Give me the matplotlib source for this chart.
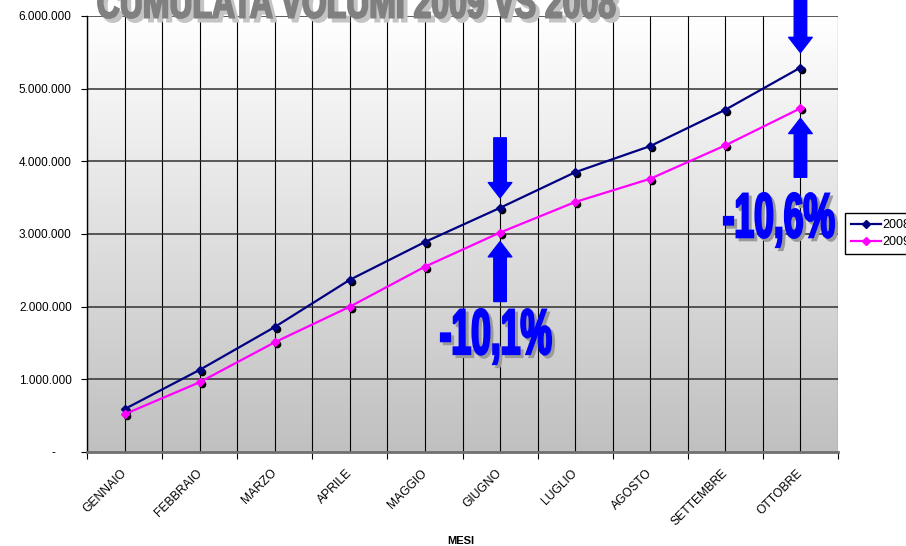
import numpy as np
import matplotlib
matplotlib.use("Agg")
import matplotlib.pyplot as plt
from matplotlib.textpath import TextPath
from matplotlib.patches import PathPatch
from matplotlib.font_manager import FontProperties
from matplotlib.transforms import Affine2D, IdentityTransform, offset_copy, blended_transform_factory
from matplotlib.lines import Line2D

# data
mesi = ['GENNAIO', 'FEBBRAIO', 'MARZO', 'APRILE', 'MAGGIO', 'GIUGNO',
        'LUGLIO', 'AGOSTO', 'SETTEMBRE', 'OTTOBRE']
v2008 = [590000, 1130000, 1720000, 2370000, 2890000, 3360000,
         3850000, 4210000, 4710000, 5290000]
v2009 = [520000, 960000, 1510000, 2000000, 2550000, 3020000,
         3440000, 3760000, 4220000, 4730000]
yticks = [0, 1000000, 2000000, 3000000, 4000000, 5000000, 6000000]
ylabels = ['-     ', '1.000.000', '2.000.000', '3.000.000', '4.000.000',
           '5.000.000', '6.000.000']

W, H = 906, 546
plt.rcParams['font.family'] = ['Liberation Sans', 'DejaVu Sans']

fig = plt.figure(figsize=(W / 100, H / 100), dpi=100)
fig.patch.set_facecolor('white')
ax = fig.add_axes([87 / W, 1 - 452 / H, (838 - 87) / W, (452 - 16) / H])

# gradient background of the plot area
grad = np.linspace(0, 1, 256).reshape(-1, 1)
ax.imshow(grad, cmap=matplotlib.colors.LinearSegmentedColormap.from_list(
    'g', ['#ffffff', '#c0c0c0']), extent=[0, 1, 0, 1], aspect='auto',
    transform=ax.transAxes, zorder=0, origin='upper')

x = np.arange(len(mesi))
ax.set_xlim(-0.5, len(mesi) - 0.5)
ax.set_ylim(0, 6000000)

# grid lines
for gx in np.arange(-0.5, len(mesi), 0.5):
    ax.axvline(gx, color='black', lw=0.8, zorder=1)
for gy in yticks[1:]:
    ax.axhline(gy, color='#303030', lw=1.1, zorder=1)

# shadows for the markers
shadow = offset_copy(ax.transData, fig=fig, x=2, y=-2, units='dots')
ax.plot(x, v2008, 'o', color='black', ms=4.5, transform=shadow, zorder=2)
ax.plot(x, v2009, 'o', color='black', ms=4.5, transform=shadow, zorder=2)
ax.plot(x, v2008, '-D', color='#000080', lw=1.6, ms=4, zorder=3)
ax.plot(x, v2009, '-D', color='#ff00ff', lw=1.6, ms=4, zorder=3)

ax.set_yticks(yticks)
ax.set_yticklabels(ylabels, fontsize=8.5)
ax.tick_params(axis='y', length=4, direction='out', pad=7)

# month labels, slanted, ending just left of each category centre
ax.set_xticks(np.arange(-0.5, len(mesi), 1))
ax.set_xticklabels([])
ax.tick_params(axis='x', length=5, direction='out')
lab_tr = offset_copy(blended_transform_factory(ax.transData, ax.transAxes),
                     fig=fig, x=-4, y=-15, units='dots')
for i, m in enumerate(mesi):
    ax.text(i, 0, m, transform=lab_tr, fontsize=8.7, rotation=45,
            ha='right', va='top', rotation_mode='anchor', clip_on=False)

for s in ['top', 'right']:
    ax.spines[s].set_visible(False)
ax.spines['left'].set_color('black')
ax.spines['left'].set_linewidth(1)
ax.spines['bottom'].set_color('#707070')
ax.spines['bottom'].set_linewidth(2)
ax.spines['bottom'].set_zorder(4)

fig.text(461 / W, 1 - 541 / H, 'MESI', fontsize=8, fontweight='bold',
         ha='center', va='center')

# legend (its right side runs off the picture, as in the original)
handles = [Line2D([], [], color='#000080', marker='D', ms=4, lw=1.6),
           Line2D([], [], color='#ff00ff', marker='D', ms=4, lw=1.6)]
leg = fig.legend(handles, ['2008', '2009'], loc='upper left',
                 bbox_to_anchor=(845 / W, 1 - 213 / H), fontsize=9,
                 fancybox=False, framealpha=1, edgecolor='black',
                 borderaxespad=0, handlelength=2.4, handletextpad=0.1,
                 borderpad=0.5, labelspacing=0.4)
leg.get_frame().set_linewidth(1)


# condensed bold text drawn as a path, box given in pixels from top-left
def big_text(s, x0, y0, x1, y1, color, shade, off=3, lw=1.6):
    fp = FontProperties(family='Liberation Sans', weight='bold')
    tp = TextPath((0, 0), s, size=100, prop=fp)
    bb = tp.get_extents()
    for d, c in ((off, shade), (0, color)):
        tr = Affine2D().translate(-bb.x0, -bb.y0).scale(
            (x1 - x0) / bb.width, (y1 - y0) / bb.height).translate(
            x0 + d, H - y1 - d)
        fig.add_artist(PathPatch(tr.transform_path(tp),
                                 transform=IdentityTransform(),
                                 fc=c, ec=c, lw=lw, zorder=10))


big_text('CUMULATA VOLUMI 2009 VS 2008', 98, -14, 615, 18,
         '#808080', '#c4c4c4', off=4, lw=1.4)
big_text('-10,1%', 441, 309, 551, 364, '#0000ff', '#9a9a9a')
big_text('-10,6%', 724, 193, 834, 247, '#0000ff', '#9a9a9a')

# fat blue arrows
aprops = dict(arrowstyle='simple,head_length=1.1,head_width=1.7,tail_width=0.9',
              color='#0000ff', mutation_scale=10, shrinkA=0)
ax.annotate('', xy=(5, v2008[5]), xytext=(0, 70), textcoords='offset pixels',
            arrowprops=dict(aprops, shrinkB=7.2), annotation_clip=False, zorder=6)
ax.annotate('', xy=(5, v2009[5]), xytext=(0, -69), textcoords='offset pixels',
            arrowprops=dict(aprops, shrinkB=6.5), annotation_clip=False, zorder=6)
ax.annotate('', xy=(9, v2008[9]), xytext=(0, 90), textcoords='offset pixels',
            arrowprops=dict(aprops, shrinkB=10.8), annotation_clip=False, zorder=6)
ax.annotate('', xy=(9, v2009[9]), xytext=(0, -69), textcoords='offset pixels',
            arrowprops=dict(aprops, shrinkB=7.2), annotation_clip=False, zorder=6)

fig.savefig('out.png', dpi=100)
